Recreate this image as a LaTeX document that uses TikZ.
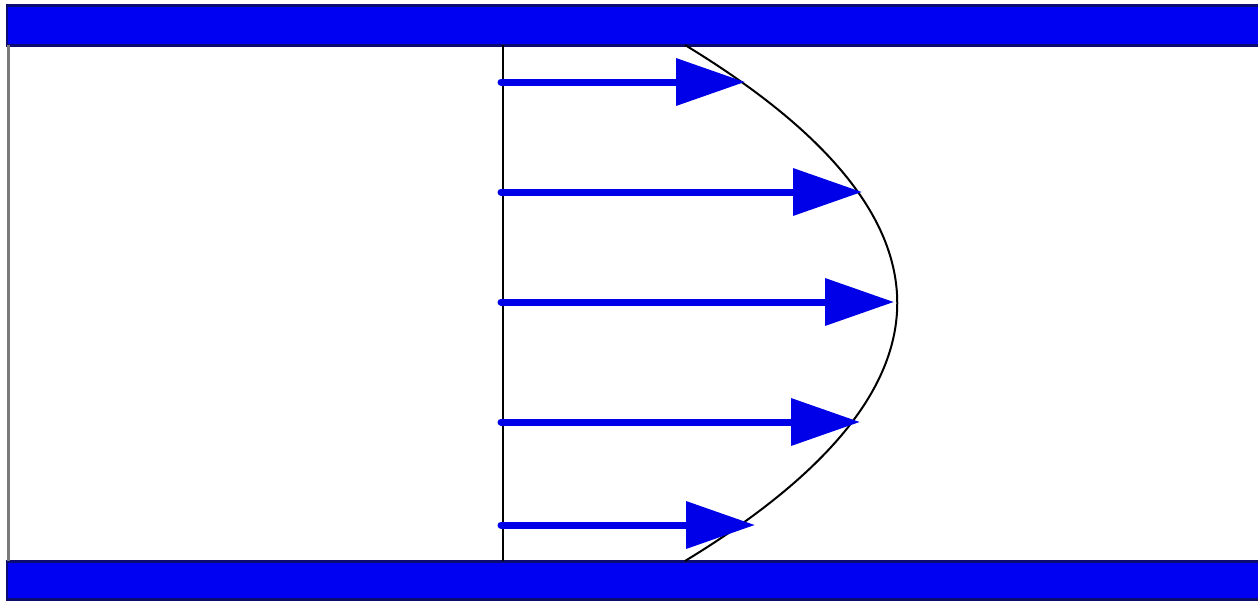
\documentclass[tikz,border=0pt]{standalone}
\usepackage{xcolor}
\usepackage{tikz}
\usetikzlibrary{arrows.meta,calc}
\definecolor{WallBlue}{HTML}{0000F2}
\definecolor{WallEdge}{HTML}{0C0C70}
\definecolor{FlowBlue}{HTML}{0000E8}
\definecolor{InletGray}{HTML}{7A7A7A}

\begin{document}
\begin{tikzpicture}[x=0.02cm,y=-0.02cm,
          wall/.style={fill=WallBlue,draw=WallEdge,line width=0.06cm},
          flow/.style={-{Triangle[length=1.38cm,width=0.92cm]},line width=0.14cm,
            line cap=round,FlowBlue}]
        \useasboundingbox (0,0) rectangle (1258,602);
        \clip (0,0) rectangle (1258,602);

        % pipe walls
        \path[wall] (7,5) rectangle (1275,45);
        \path[wall] (7,561) rectangle (1275,599);
        \draw[InletGray,line width=0.06cm] (8.5,45) -- (8.5,561);

        % reference line and velocity profile
        \coordinate (ref top) at (503,45);
        \coordinate (ref bot) at (503,561);
        \coordinate (prof top) at (685,45);
        \coordinate (prof bot) at (685,561);
        \draw[line width=0.04cm] (ref top) -- (ref bot);
        \draw[line width=0.04cm] (prof top) .. controls (968,217) and (968,389) .. (prof bot);

        % velocity vectors
        \foreach \y/\xe [count=\i] in {82/745,192/862,302/894,422/860,525/755} {
          \coordinate (v\i) at (501,\y);
          \coordinate (u\i) at (\xe,\y);
          \draw[flow] (v\i) -- (u\i);
        }
      \end{tikzpicture}
\end{document}
